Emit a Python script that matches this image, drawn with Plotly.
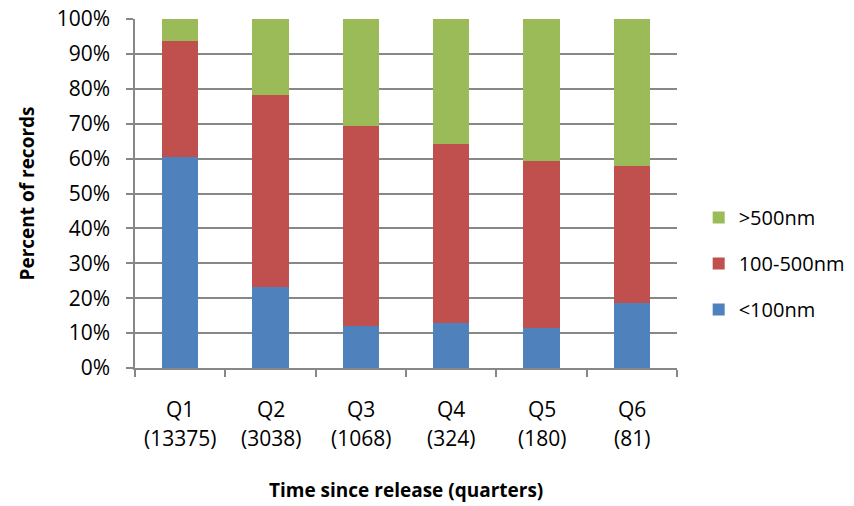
import plotly.graph_objects as go

# Share of records by size class, per quarter since release
quarters = ["Q1", "Q2", "Q3", "Q4", "Q5", "Q6"]
record_counts = [13375, 3038, 1068, 324, 180, 81]
pct_under_100 = [60.6, 23.3, 12.0, 12.9, 11.6, 18.5]
pct_100_500 = [33.2, 55.0, 57.2, 51.3, 47.8, 39.5]
pct_over_500 = [6.2, 21.7, 30.8, 35.8, 40.6, 42.0]
y_ticks = [0, 10, 20, 30, 40, 50, 60, 70, 80, 90, 100]

FONT = "Open Sans"
GRID = "#878787"
FS = 21

# (label, values, colour, legend rank) - stacked bottom to top
series = [
    ("<100nm", pct_under_100, "#4F81BD", 3),
    ("100-500nm", pct_100_500, "#C0504D", 2),
    (">500nm", pct_over_500, "#9BBB59", 1),
]

fig = go.Figure()
for name, vals, color, rank in series:
    fig.add_trace(go.Bar(
        x=quarters,
        y=[v / 100 for v in vals],
        name=name,
        legendgroup=name,
        legendrank=rank,
        marker=dict(color=color, line=dict(width=0)),
    ))

fig.update_layout(
    barmode="stack",
    bargap=0.6,
    width=854,
    height=506,
    margin=dict(l=135, r=177, t=19, b=138, autoexpand=False),
    paper_bgcolor="white",
    plot_bgcolor="white",
    font=dict(family=FONT, size=FS, color="#000000"),
    legend=dict(
        x=1.04, xanchor="left",
        y=0.487, yanchor="top",
        traceorder="grouped",
        tracegroupgap=17,
        font=dict(family=FONT, size=20),
        itemwidth=30,
    ),
    showlegend=True,
)

fig.update_yaxes(
    range=[0, 1],
    tickvals=[t / 100 for t in y_ticks],
    ticktext=[f"{t}%" for t in y_ticks],
    showgrid=True, gridcolor=GRID, gridwidth=1.5,
    showline=True, linecolor=GRID, linewidth=1.5,
    ticks="outside", ticklen=7, tickcolor=GRID, tickwidth=1.5,
    ticklabelstandoff=12,
    tickfont=dict(family=FONT, size=FS),
    zeroline=False,
)

fig.update_xaxes(
    type="category",
    showticklabels=False,
    tickson="boundaries",
    ticks="outside", ticklen=7, tickcolor=GRID, tickwidth=1.5,
    showline=True, linecolor=GRID, linewidth=1.5,
    showgrid=False,
)

# Two-line category labels: quarter and record count
for q, n in zip(quarters, record_counts):
    fig.add_annotation(x=q, xref="x", y=0, yref="paper", yshift=-41,
                       text=q, showarrow=False, yanchor="middle",
                       font=dict(family=FONT, size=FS))
    fig.add_annotation(x=q, xref="x", y=0, yref="paper", yshift=-70,
                       text=f"({n})", showarrow=False, yanchor="middle",
                       font=dict(family=FONT, size=FS))

fig.add_annotation(x=0.5, xref="paper", y=0, yref="paper", yshift=-122,
                   text="<b>Time since release (quarters)</b>", showarrow=False,
                   yanchor="middle", font=dict(family=FONT, size=19))
fig.add_annotation(x=0, xref="paper", xshift=-109, y=0.5, yref="paper",
                   text="<b>Percent of records</b>", textangle=-90, showarrow=False,
                   xanchor="center", font=dict(family=FONT, size=19))

fig.write_html("out.html")
